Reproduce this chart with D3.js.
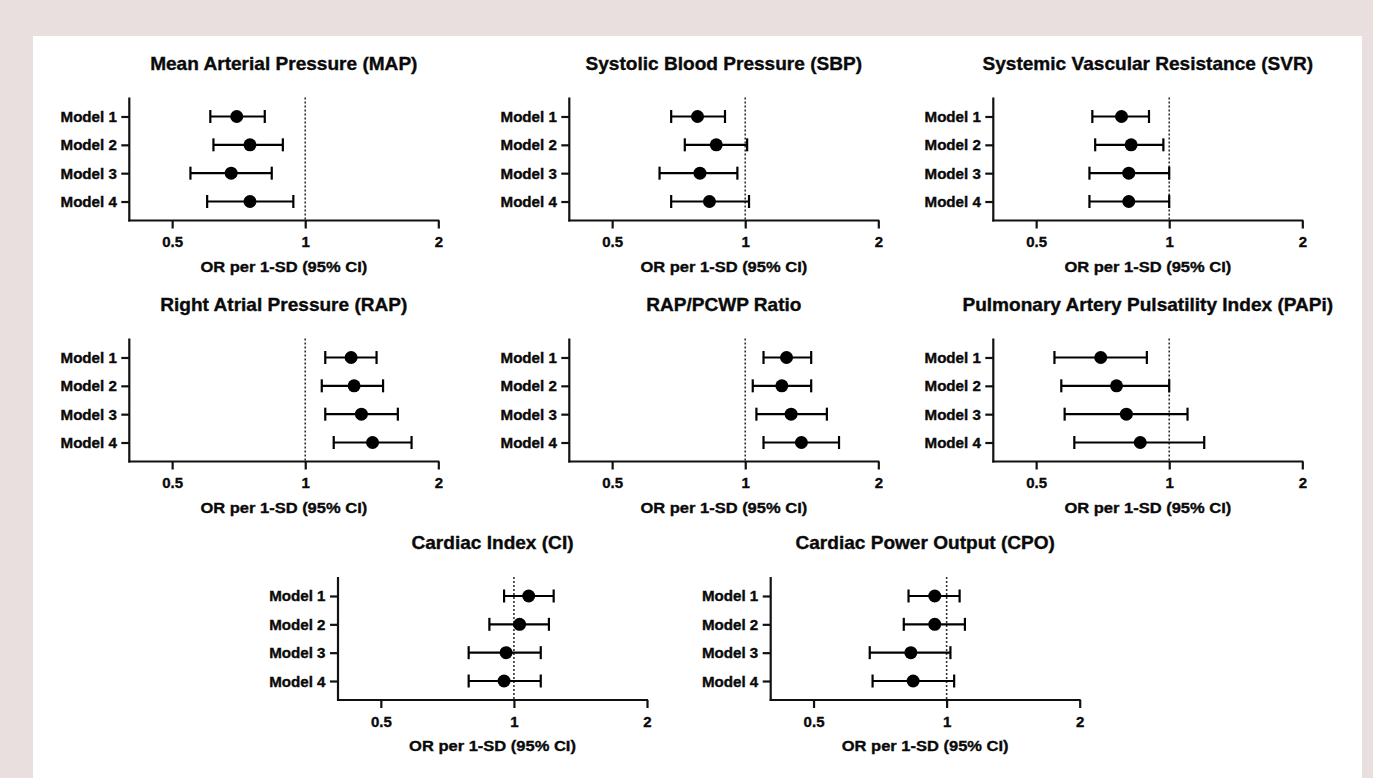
<!DOCTYPE html>
<html>
<head>
<meta charset="utf-8">
<script src="https://cdn.jsdelivr.net/npm/d3@7"></script>
<style>
  html, body { margin: 0; padding: 0; background: #eadfdf; }
  svg { display: block; }
  text { font-family: "Liberation Sans", Arial, Helvetica, sans-serif; font-weight: bold; fill: #0a0a0a; stroke: #0a0a0a; stroke-width: 0.35px; }
</style>
</head>
<body>
<svg id="chart" width="1373" height="778"></svg>
<script>
// ---------------- DATA ----------------
const models = ["Model 1", "Model 2", "Model 3", "Model 4"];
const panelTitles = [
  "Mean Arterial Pressure (MAP)",
  "Systolic Blood Pressure (SBP)",
  "Systemic Vascular Resistance (SVR)",
  "Right Atrial Pressure (RAP)",
  "RAP/PCWP Ratio",
  "Pulmonary Artery Pulsatility Index (PAPi)",
  "Cardiac Index (CI)",
  "Cardiac Power Output (CPO)"
];
// odds ratio per 1-SD, Model 1..4
const mapOR  = [0.70, 0.75, 0.68, 0.75];
const sbpOR  = [0.78, 0.86, 0.79, 0.83];
const svrOR  = [0.78, 0.82, 0.81, 0.81];
const rapOR  = [1.27, 1.29, 1.34, 1.42];
const ratioOR = [1.24, 1.21, 1.27, 1.34];
const papiOR = [0.70, 0.76, 0.80, 0.86];
const ciOR   = [1.08, 1.03, 0.96, 0.95];
const cpoOR  = [0.94, 0.94, 0.83, 0.84];
// lower 95% CI
const mapLow  = [0.61, 0.62, 0.55, 0.60];
const sbpLow  = [0.68, 0.73, 0.64, 0.68];
const svrLow  = [0.67, 0.68, 0.66, 0.66];
const rapLow  = [1.11, 1.09, 1.11, 1.16];
const ratioLow = [1.10, 1.04, 1.06, 1.10];
const papiLow = [0.55, 0.57, 0.58, 0.61];
const ciLow   = [0.95, 0.88, 0.79, 0.79];
const cpoLow  = [0.82, 0.80, 0.67, 0.68];
// upper 95% CI
const mapHigh  = [0.81, 0.89, 0.84, 0.94];
const sbpHigh  = [0.90, 1.01, 0.96, 1.02];
const svrHigh  = [0.90, 0.97, 1.00, 1.00];
const rapHigh  = [1.45, 1.50, 1.62, 1.74];
const ratioHigh = [1.41, 1.41, 1.53, 1.63];
const papiHigh = [0.89, 1.00, 1.10, 1.20];
const ciHigh   = [1.23, 1.20, 1.15, 1.15];
const cpoHigh  = [1.07, 1.10, 1.02, 1.04];
const xTickValues = [0.5, 1, 2];
const xTickLabels = ["0.5", "1", "2"];
const xDomain = [0.4, 2];
const xAxisTitle = "OR per 1-SD (95% CI)";
const referenceOR = 1;

const orSeries   = [mapOR, sbpOR, svrOR, rapOR, ratioOR, papiOR, ciOR, cpoOR];
const lowSeries  = [mapLow, sbpLow, svrLow, rapLow, ratioLow, papiLow, ciLow, cpoLow];
const highSeries = [mapHigh, sbpHigh, svrHigh, rapHigh, ratioHigh, papiHigh, ciHigh, cpoHigh];

// ---------------- LAYOUT ----------------
const svg = d3.select("#chart");
svg.append("rect").attr("x", 0).attr("y", 0).attr("width", 1373).attr("height", 778).attr("fill", "#eadfdf");
svg.append("rect").attr("x", 33).attr("y", 36).attr("width", 1329).attr("height", 760).attr("fill", "#ffffff");

const plotW = 309;
const plotH = 123;
const panelOrigins = [
  [129.3, 97.5], [569.3, 97.5], [993.3, 97.5],
  [129.3, 338.5], [569.3, 338.5], [993.3, 338.5],
  [338, 577], [770.7, 577]
];

// slightly widened text (reference glyphs are wider than Arial)
function wideText(sel, x, y, size, sx) {
  sel.attr("x", 0).attr("y", 0)
    .attr("transform", `translate(${x},${y}) scale(${sx},1)`)
    .style("font-size", size + "px");
}

panelTitles.forEach((title, i) => {
  const [ox, oy] = panelOrigins[i];
  const g = svg.append("g").attr("transform", `translate(${ox},${oy})`);

  const x = d3.scaleLog().base(2).domain(xDomain).range([0, plotW]);
  const y = d3.scalePoint().domain(models).range([0, plotH]).padding(0.67);

  // title
  g.append("text")
    .attr("text-anchor", "middle")
    .text(title)
    .call(wideText, plotW / 2, -28, 18, 1.06);

  // reference line at OR = 1
  g.append("line")
    .attr("x1", x(referenceOR)).attr("x2", x(referenceOR))
    .attr("y1", 0).attr("y2", plotH)
    .attr("stroke", "#333").attr("stroke-width", 1.6)
    .attr("stroke-dasharray", "2,2");

  // x axis
  const xAxis = d3.axisBottom(x)
    .tickValues(xTickValues)
    .tickFormat((d, k) => xTickLabels[k])
    .tickSize(8).tickPadding(8).tickSizeOuter(0);
  const gx = g.append("g").attr("transform", `translate(0,${plotH})`).call(xAxis);
  gx.select(".domain").attr("stroke", "#111").attr("stroke-width", 2.2)
    .attr("d", `M-1,0H${plotW + 1}`);
  gx.selectAll(".tick line").attr("stroke", "#111").attr("stroke-width", 2.2);
  gx.selectAll(".tick text")
    .attr("dy", null)
    .style("font-family", "'Liberation Sans', Arial, sans-serif")
    .style("font-weight", "bold")
    .attr("fill", "#0a0a0a")
    .each(function () { d3.select(this).call(wideText, 0, 26.8, 15, 1.0); });

  // y axis
  const yAxis = d3.axisLeft(y).tickSize(8).tickPadding(4).tickSizeOuter(0);
  const gy = g.append("g").call(yAxis);
  gy.select(".domain").attr("stroke", "#111").attr("stroke-width", 2.2)
    .attr("d", `M0,0V${plotH + 1}`);
  gy.selectAll(".tick line").attr("stroke", "#111").attr("stroke-width", 2.2);
  gy.selectAll(".tick text")
    .attr("dy", null)
    .style("font-family", "'Liberation Sans', Arial, sans-serif")
    .style("font-weight", "bold")
    .attr("fill", "#0a0a0a")
    .each(function () { d3.select(this).call(wideText, -12.5, 5, 14, 1.08); });

  // axis title
  g.append("text")
    .attr("text-anchor", "middle")
    .text(xAxisTitle)
    .call(wideText, plotW / 2, plotH + 51, 15.5, 1.065);

  // error bars & points
  const rows = models.map((m, k) => ({ m, or: orSeries[i][k], lo: lowSeries[i][k], hi: highSeries[i][k] }));
  const cap = 6.5;
  const eb = g.append("g").attr("stroke", "#000").attr("stroke-width", 2.2);
  eb.selectAll("line.ci").data(rows).join("line").attr("class", "ci")
    .attr("x1", d => x(d.lo)).attr("x2", d => x(d.hi))
    .attr("y1", d => y(d.m)).attr("y2", d => y(d.m));
  eb.selectAll("line.capl").data(rows).join("line").attr("class", "capl")
    .attr("x1", d => x(d.lo)).attr("x2", d => x(d.lo))
    .attr("y1", d => y(d.m) - cap).attr("y2", d => y(d.m) + cap);
  eb.selectAll("line.caph").data(rows).join("line").attr("class", "caph")
    .attr("x1", d => x(d.hi)).attr("x2", d => x(d.hi))
    .attr("y1", d => y(d.m) - cap).attr("y2", d => y(d.m) + cap);
  g.selectAll("circle.pt").data(rows).join("circle").attr("class", "pt")
    .attr("cx", d => x(d.or)).attr("cy", d => y(d.m)).attr("r", 6.5)
    .attr("fill", "#000");
});
</script>
</body>
</html>
